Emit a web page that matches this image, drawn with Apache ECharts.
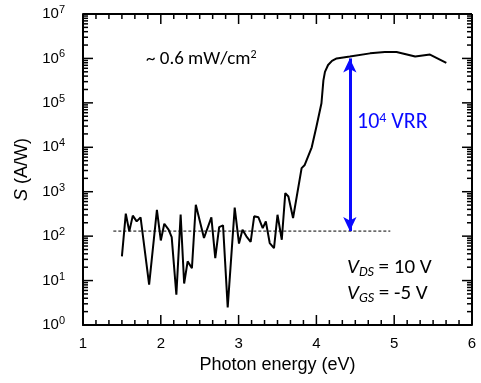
<!DOCTYPE html>
<html>
<head>
<meta charset="utf-8">
<script src="https://cdn.jsdelivr.net/npm/echarts@6/dist/echarts.min.js"></script>
<style>
  html, body { margin: 0; padding: 0; background: #fff; }
  #chart { width: 481px; height: 383px; }
</style>
</head>
<body>
<div id="chart"></div>
<script>
// Photon energy (eV) and responsivity S (A/W)
const energy = [
  1.50, 1.55, 1.595, 1.64, 1.69, 1.74, 1.85, 1.95, 2.00, 2.045, 2.10, 2.14,
  2.20, 2.255, 2.30, 2.345, 2.40, 2.45, 2.555, 2.65, 2.70, 2.75, 2.80, 2.86,
  2.95, 3.005, 3.05, 3.10, 3.155, 3.20, 3.255, 3.31, 3.35, 3.40, 3.455, 3.50,
  3.555, 3.60, 3.64, 3.70, 3.81, 3.85, 3.94, 4.00, 4.065, 4.09, 4.11, 4.15,
  4.20, 4.26, 4.43, 4.69, 4.88, 5.03, 5.27, 5.46, 5.67
];
const responsivity = [
  35, 320, 128, 290, 215, 265, 8.1, 390, 80, 190, 140, 95,
  4.8, 305, 8.6, 27, 19, 510, 91, 265, 32, 160, 175, 2.5,
  440, 68, 140, 99, 74, 280, 265, 152, 214, 70, 54, 303,
  83, 930, 780, 256, 3400, 4000, 10000, 29000, 98000, 320000, 500000, 710000,
  880000, 1.0e6, 1.1e6, 1.3e6, 1.4e6, 1.4e6, 1.1e6, 1.22e6, 7.9e5
];

// Noise floor reference and the on/off ratio arrow
const noiseLevel = 130;
const noiseSpan = [1.39, 4.95];
const arrowEnergy = 4.43;
const arrowRange = [130, 1.0e6];

// Axis ranges and tick positions
const xRange = [1, 6];
const xMajorTicks = [1, 2, 3, 4, 5, 6];
const xMinorPerUnit = 6;
const yRange = [1, 1e7];
const yDecades = [0, 1, 2, 3, 4, 5, 6, 7];

const xMinorTicks = [];
for (let i = xRange[0] * xMinorPerUnit; i <= xRange[1] * xMinorPerUnit; i++) {
  if (i % xMinorPerUnit !== 0) xMinorTicks.push(i / xMinorPerUnit);
}
const yMajorTicks = yDecades.map(p => Math.pow(10, p));
const yMinorTicks = [];
for (let n = 0; n < 7; n++) {
  for (let m = 2; m <= 9; m++) yMinorTicks.push(m * Math.pow(10, n));
}

const curve = energy.map((e, i) => [e, responsivity[i]]);

const axisFont = 'Liberation Sans, Arial, sans-serif';
const noteFont = 'Carlito, Lato, "Open Sans", sans-serif';
const ink = '#000';
const blue = '#0a0aff';

const annotations = [
  {
    type: 'text', left: 146, top: 49,
    style: {
      text: '~ 0.6 mW/cm{s|2}',
      font: '19px ' + noteFont, fill: ink,
      rich: { s: { fontSize: 12, fontFamily: noteFont, fill: ink, verticalAlign: 'bottom', padding: [0, 0, 8, 0] } }
    }
  },
  {
    type: 'text', left: 357, top: 111,
    style: {
      text: '10{s|4} VRR',
      font: '22px ' + noteFont, fill: blue,
      rich: { s: { fontSize: 14, fontFamily: noteFont, fill: blue, verticalAlign: 'bottom', padding: [0, 0, 9, 0] } }
    }
  },
  {
    type: 'text', left: 347, top: 257,
    style: {
      text: '{v|V}{sub|DS} = 10 V',
      font: '21px ' + noteFont, fill: ink,
      rich: {
        v: { fontSize: 21, fontStyle: 'italic', fontFamily: noteFont, fill: ink },
        sub: { fontSize: 14, fontStyle: 'italic', fontFamily: noteFont, fill: ink, verticalAlign: 'top', padding: [9, 0, 0, 0] }
      }
    }
  },
  {
    type: 'text', left: 347, top: 283,
    style: {
      text: '{v|V}{sub|GS} = -5 V',
      font: '21px ' + noteFont, fill: ink,
      rich: {
        v: { fontSize: 21, fontStyle: 'italic', fontFamily: noteFont, fill: ink },
        sub: { fontSize: 14, fontStyle: 'italic', fontFamily: noteFont, fill: ink, verticalAlign: 'top', padding: [9, 0, 0, 0] }
      }
    }
  }
];

const chart = echarts.init(document.getElementById('chart'), null, { renderer: 'canvas' });

chart.setOption({
  animation: false,
  backgroundColor: '#fff',
  grid: { left: 83, right: 9, top: 14, bottom: 58 },
  xAxis: {
    type: 'value',
    min: xRange[0],
    max: xRange[1],
    interval: 1,
    axisLine: { show: true, lineStyle: { color: ink, width: 2 } },
    axisTick: { show: false },
    splitLine: { show: false },
    name: 'Photon energy (eV)',
    nameLocation: 'middle',
    nameGap: 31,
    nameTextStyle: { fontFamily: axisFont, fontSize: 18, color: ink },
    axisLabel: { margin: 11, color: ink, fontFamily: axisFont, fontSize: 15 }
  },
  yAxis: {
    type: 'log',
    logBase: 10,
    min: yRange[0],
    max: yRange[1],
    splitNumber: 7,
    axisLine: { show: true, lineStyle: { color: ink, width: 2 } },
    axisTick: { show: false },
    splitLine: { show: false },
    name: '{i|S} (A/W)',
    nameLocation: 'middle',
    nameRotate: 90,
    nameGap: 31,
    nameTextStyle: {
      fontFamily: axisFont, fontSize: 18, color: ink,
      rich: { i: { fontFamily: axisFont, fontSize: 18, fontStyle: 'italic', color: ink } }
    },
    axisLabel: {
      margin: 18, color: ink, fontFamily: axisFont, fontSize: 15,
      formatter: v => '{b|10}{s|' + Math.round(Math.log10(v)) + '}',
      rich: {
        b: { fontFamily: axisFont, fontSize: 15, color: ink },
        s: { fontFamily: axisFont, fontSize: 11, color: ink, verticalAlign: 'bottom', padding: [0, 0, 8, 0] }
      }
    }
  },
  graphic: annotations,
  series: [
    {
      type: 'line',
      data: noiseSpan.map(e => [e, noiseLevel]),
      symbol: 'none',
      lineStyle: { color: ink, width: 1, type: [3, 2] },
      markLine: {
        silent: true,
        symbol: ['arrow', 'arrow'],
        symbolSize: [10, 14],
        label: { show: false },
        lineStyle: { color: blue, width: 3, type: 'solid' },
        data: [[
          { coord: [arrowEnergy, arrowRange[0]] },
          { coord: [arrowEnergy, arrowRange[1]] }
        ]]
      }
    },
    {
      type: 'line',
      data: curve,
      symbol: 'none',
      lineStyle: { color: ink, width: 2 }
    }
  ]
});

// Frame edges and inward ticks on all four sides, placed through the axis scales
const toPx = (x, y) => chart.convertToPixel({ xAxisIndex: 0, yAxisIndex: 0 }, [x, y]);
const lo = toPx(xRange[0], yRange[0]);
const hi = toPx(xRange[1], yRange[1]);
const frame = [];
const seg = (x1, y1, x2, y2, w) => frame.push({
  type: 'line', silent: true, z: 50,
  shape: { x1, y1, x2, y2 },
  style: { stroke: ink, lineWidth: w }
});
xMajorTicks.forEach(v => { const x = toPx(v, yRange[0])[0]; seg(x, lo[1], x, lo[1] - 10, 1.5); seg(x, hi[1], x, hi[1] + 10, 1.5); });
xMinorTicks.forEach(v => { const x = toPx(v, yRange[0])[0]; seg(x, lo[1], x, lo[1] - 5, 1.5); seg(x, hi[1], x, hi[1] + 5, 1.5); });
yMajorTicks.forEach(v => { const y = toPx(xRange[0], v)[1]; seg(lo[0], y, lo[0] + 10, y, 1.5); seg(hi[0], y, hi[0] - 10, y, 1.5); });
yMinorTicks.forEach(v => { const y = toPx(xRange[0], v)[1]; seg(lo[0], y, lo[0] + 5, y, 1.5); seg(hi[0], y, hi[0] - 5, y, 1.5); });
seg(lo[0], hi[1], hi[0], hi[1], 2);
seg(hi[0], hi[1], hi[0], lo[1], 2);

chart.setOption({ graphic: annotations.concat(frame) });
</script>
</body>
</html>
